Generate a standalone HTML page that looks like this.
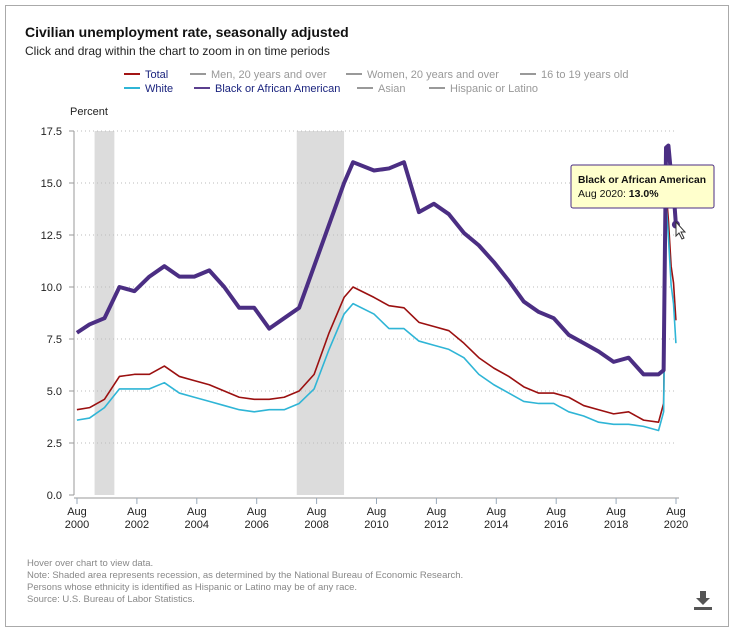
<!DOCTYPE html>
<html><head><meta charset="utf-8"><style>
body{margin:0;background:#fff;font-family:"Liberation Sans",sans-serif;}
#frame{position:absolute;left:5px;top:5px;width:722px;height:620px;border:1px solid #aaa;}
.t{position:absolute;white-space:nowrap;}
</style></head><body>
<div id="frame"></div>
<div class="t" style="left:25px;top:24px;font-size:14px;font-weight:bold;color:#111">Civilian unemployment rate, seasonally adjusted</div>
<div class="t" style="left:25px;top:44px;font-size:12px;color:#222">Click and drag within the chart to zoom in on time periods</div>
<svg width="735" height="631" style="position:absolute;left:0;top:0" font-family="Liberation Sans, sans-serif">
<g id="legend" font-size="11">
 <g><line x1="124" y1="74" x2="140" y2="74" stroke="#a31515" stroke-width="2"/><text x="145" y="78" fill="#1a237e">Total</text></g>
 <g><line x1="190" y1="74" x2="206" y2="74" stroke="#999" stroke-width="2"/><text x="211" y="78" fill="#999">Men, 20 years and over</text></g>
 <g><line x1="346" y1="74" x2="362" y2="74" stroke="#999" stroke-width="2"/><text x="367" y="78" fill="#999">Women, 20 years and over</text></g>
 <g><line x1="520" y1="74" x2="536" y2="74" stroke="#999" stroke-width="2"/><text x="541" y="78" fill="#999">16 to 19 years old</text></g>
 <g><line x1="124" y1="88" x2="140" y2="88" stroke="#2fb5d6" stroke-width="2"/><text x="145" y="92" fill="#1a237e">White</text></g>
 <g><line x1="194" y1="88" x2="210" y2="88" stroke="#5b3f8e" stroke-width="2"/><text x="215" y="92" fill="#1a237e">Black or African American</text></g>
 <g><line x1="357" y1="88" x2="373" y2="88" stroke="#999" stroke-width="2"/><text x="378" y="92" fill="#999">Asian</text></g>
 <g><line x1="429" y1="88" x2="445" y2="88" stroke="#999" stroke-width="2"/><text x="450" y="92" fill="#999">Hispanic or Latino</text></g>
</g>
<text x="70" y="115" font-size="11" fill="#222">Percent</text>
<g id="recess"></g><g id="grid"></g><g id="axes"></g><g id="series"></g>
<g>
 <rect x="571" y="165" width="143" height="43" rx="2" fill="#ffffcc" stroke="#4b2e83" stroke-width="1"/>
 <text x="578" y="183" font-size="10.5" font-weight="bold" fill="#111" textLength="128" lengthAdjust="spacingAndGlyphs">Black or African American</text>
 <text x="578" y="197" font-size="10.5" fill="#111">Aug 2020: <tspan font-weight="bold">13.0%</tspan></text>
</g>
<path d="M676 222 l0 14 l3 -3 l3 6 l2 -1 l-3 -6 l4 0 z" fill="#fff" stroke="#333" stroke-width="1"/>
<g font-size="9.5" fill="#888">
 <text x="27" y="566">Hover over chart to view data.</text>
 <text x="27" y="578">Note: Shaded area represents recession, as determined by the National Bureau of Economic Research.</text>
 <text x="27" y="590">Persons whose ethnicity is identified as Hispanic or Latino may be of any race.</text>
 <text x="27" y="602">Source: U.S. Bureau of Labor Statistics.</text>
</g>
<g fill="#555">
 <rect x="700" y="591" width="6" height="8"/><path d="M696 598 h14 l-7 7 z"/><rect x="694" y="607" width="18" height="3"/>
</g>
</svg>
<script>
const yTicks=[0,2.5,5,7.5,10,12.5,15,17.5];
const xTickYears=[2000,2002,2004,2006,2008,2010,2012,2014,2016,2018,2020];
const recessions=[[2001.17,2001.83],[2007.92,2009.5]];
const dates=[2000.58,2001,2001.5,2002,2002.5,2003,2003.5,2004,2004.5,2005,2005.5,2006,2006.5,2007,2007.5,2008,2008.5,2009,2009.5,2009.8,2010.5,2011,2011.5,2012,2012.5,2013,2013.5,2014,2014.5,2015,2015.5,2016,2016.5,2017,2017.5,2018,2018.5,2019,2019.5,2020,2020.17,2020.25,2020.33,2020.42,2020.5,2020.58];
const totalRate=[4.1,4.2,4.6,5.7,5.8,5.8,6.2,5.7,5.5,5.3,5.0,4.7,4.6,4.6,4.7,5.0,5.8,7.8,9.5,10.0,9.5,9.1,9.0,8.3,8.1,7.9,7.3,6.6,6.1,5.7,5.2,4.9,4.9,4.7,4.3,4.1,3.9,4.0,3.6,3.5,4.4,14.7,13.2,11.0,10.2,8.4];
const whiteRate=[3.6,3.7,4.2,5.1,5.1,5.1,5.4,4.9,4.7,4.5,4.3,4.1,4.0,4.1,4.1,4.4,5.1,7.0,8.7,9.2,8.7,8.0,8.0,7.4,7.2,7.0,6.6,5.8,5.3,4.9,4.5,4.4,4.4,4.0,3.8,3.5,3.4,3.4,3.3,3.1,4.0,14.2,12.4,10.1,9.2,7.3];
const blackRate=[7.8,8.2,8.5,10.0,9.8,10.5,11.0,10.5,10.5,10.8,10.0,9.0,9.0,8.0,8.5,9.0,11.0,13.0,15.0,16.0,15.6,15.7,16.0,13.6,14.0,13.5,12.6,12.0,11.2,10.3,9.3,8.8,8.5,7.7,7.3,6.9,6.4,6.6,5.8,5.8,6.0,16.7,16.8,15.4,14.6,13.0];
const X0=77,X1=676,Y0=495,Y1=131;
const xs=d=>X0+(d-2000.583)/20*(X1-X0);
const ys=v=>Y0-v/17.5*(Y0-Y1);
const NS='http://www.w3.org/2000/svg';
function mk(p,tag,at){const e=document.createElementNS(NS,tag);for(const k in at)e.setAttribute(k,at[k]);document.getElementById(p).appendChild(e);return e;}
recessions.forEach(r=>{const e=mk('recess','rect',{x:xs(r[0]),y:Y1,width:xs(r[1])-xs(r[0]),height:Y0-Y1,fill:'#dcdcdc'});

});
yTicks.forEach(v=>{if(v>0){const g=mk('grid','line',{x1:X0,x2:X1,y1:ys(v),y2:ys(v),stroke:'#bbb','stroke-dasharray':'1,3'});

}
const t=mk('axes','text',{x:X0-15,y:ys(v)+4,'font-size':11,'text-anchor':'end',fill:'#222'});t.textContent=v.toFixed(1);


mk('axes','line',{x1:X0-8,x2:X0-3,y1:ys(v),y2:ys(v),stroke:'#999'});});
mk('axes','line',{x1:X0-3,x2:X0-3,y1:Y1,y2:Y0,stroke:'#999'});
mk('axes','line',{x1:X0-3,x2:X1+3,y1:Y0+3,y2:Y0+3,stroke:'#999'});
xTickYears.forEach(y=>{const x=xs(y+0.583);mk('axes','line',{x1:x,x2:x,y1:Y0+3,y2:Y0+9,stroke:'#9ab'});
const t=mk('axes','text',{x:x,y:Y0+20,'font-size':11,'text-anchor':'middle',fill:'#222'});t.textContent='Aug';


const t2=mk('axes','text',{x:x,y:Y0+33,'font-size':11,'text-anchor':'middle',fill:'#222'});t2.textContent=y;

});
function line(vals,color,w,name){const p=mk('series','polyline',{points:vals.map((v,i)=>xs(dates[i])+','+ys(v)).join(' '),fill:'none',stroke:color,'stroke-width':w,'stroke-linejoin':'round'});

}
line(totalRate,'#9b1010',1.6,'series-total');
line(whiteRate,'#2fb5d6',1.6,'series-white');
line(blackRate,'#4b2e83',4,'series-black');
const dot=mk('series','circle',{cx:xs(dates[dates.length-1]),cy:ys(blackRate[blackRate.length-1]),r:4,fill:'#4b2e83'});


</script>
</body></html>
